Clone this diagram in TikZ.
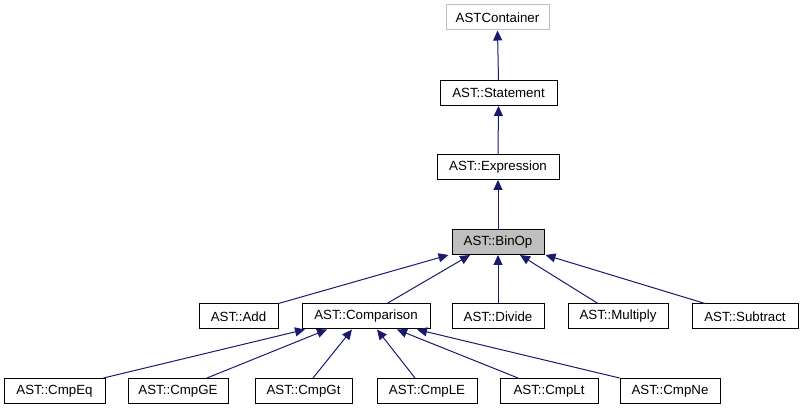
\documentclass[tikz,border=0pt]{standalone}
\usepackage{fontspec}
\setmainfont{Liberation Sans}
\usetikzlibrary{arrows.meta,calc}
\definecolor{edgeblue}{HTML}{191970}
\definecolor{boxgray}{HTML}{BFBFBF}
\begin{document}
\begin{tikzpicture}[x=1pt,y=-1pt,
  cls/.style={draw=black,line width=1pt,inner sep=0pt,minimum height=25pt,font=\fontsize{13.3}{15}\selectfont,anchor=center},
  ext/.style={cls,draw=boxgray},
  cur/.style={cls,fill=boxgray},
  edge/.style={draw=edgeblue,line width=1pt,-{Triangle[length=10pt,width=9pt]}}]
\useasboundingbox (0,0) rectangle (803,411);
\node[ext,minimum width=103pt] (cont) at (497.5,17.5) {ASTContainer};
\node[cls,minimum width=117pt] (stmt) at (498.5,93) {AST::Statement};
\node[cls,minimum width=122pt] (expr) at (498,167) {AST::Expression};
\node[cur,minimum width=92pt] (binop) at (498,242) {AST::BinOp};
\node[cls,minimum width=79pt] (add) at (238.5,316.5) {AST::Add};
\node[cls,minimum width=128pt] (comp) at (366,316.5) {AST::Comparison};
\node[cls,minimum width=92pt] (div) at (498,316.5) {AST::Divide};
\node[cls,minimum width=100pt] (mul) at (618,316.5) {AST::Multiply};
\node[cls,minimum width=106pt] (sub) at (745,316.5) {AST::Subtract};
\node[cls,minimum width=101pt] (eq) at (54.5,391) {AST::CmpEq};
\node[cls,minimum width=100pt] (ge) at (178,391) {AST::CmpGE};
\node[cls,minimum width=97pt] (gt) at (303.5,391) {AST::CmpGt};
\node[cls,minimum width=100pt] (le) at (427,391) {AST::CmpLE};
\node[cls,minimum width=98pt] (lt) at (549,391) {AST::CmpLt};
\node[cls,minimum width=100pt] (ne) at (670,391) {AST::CmpNe};
\draw[edge] (stmt.north) -- (cont.south);
\draw[edge] (expr.north) -- (stmt.south);
\draw[edge] (binop.north) -- (expr.south);
\draw[edge] (add.north east) -- ($(binop.south west)+(-3,0)$);
\draw[edge] ($(comp.north)+(21,0)$) -- ($(binop.south)+(-28,0)$);
\draw[edge] (div.north) -- (binop.south);
\draw[edge] ($(mul.north)+(-20,0)$) -- ($(binop.south)+(22,0)$);
\draw[edge] ($(sub.north)+(-40,0)$) -- ($(binop.south east)+(1,0)$);
\draw[edge] ($(eq.north east)+(-2,0)$) -- ($(comp.south)+(-61,0)$);
\draw[edge] ($(ge.north)+(29,0)$) -- ($(comp.south)+(-39,0)$);
\draw[edge] ($(gt.north)+(9.5,0)$) -- ($(comp.south)+(-14,0)$);
\draw[edge] ($(le.north)+(-12,0)$) -- ($(comp.south)+(11,0)$);
\draw[edge] ($(lt.north)+(-31,0)$) -- ($(comp.south)+(31,0)$);
\draw[edge] (ne.north west) -- ($(comp.south)+(51,0)$);
\end{tikzpicture}
\end{document}
